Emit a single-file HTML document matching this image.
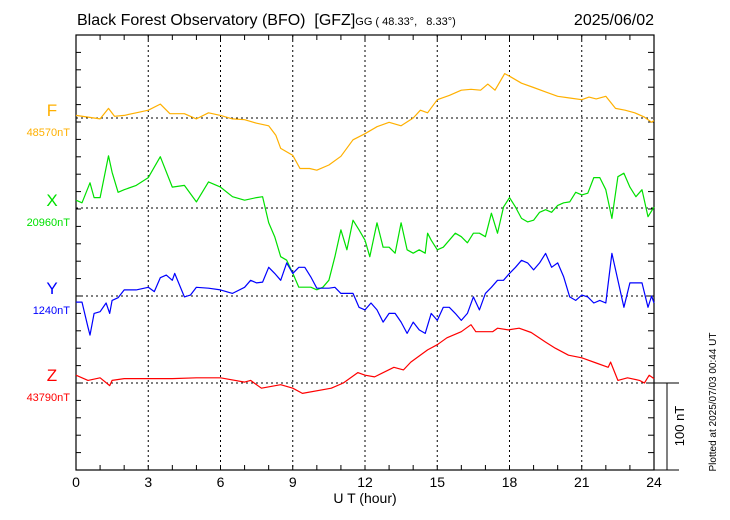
<!DOCTYPE html>
<html><head><meta charset="utf-8"><style>
body{margin:0;background:#fff;}
svg{display:block;font-family:"Liberation Sans",sans-serif;}
</style></head><body>
<svg id="chart" width="730" height="520" viewBox="0 0 730 520" xmlns="http://www.w3.org/2000/svg">
<text x="77" y="25" font-size="16" xml:space="preserve" style="white-space:pre">Black Forest Observatory (BFO)  [GFZ]<tspan font-size="11">GG ( 48.33°,   8.33°)</tspan></text>
<text x="654" y="25" font-size="16" text-anchor="end">2025/06/02</text>
<g id="grid"></g>
<g id="series"></g>
<g id="labels"></g>
<text x="365" y="503" font-size="14" text-anchor="middle">U T (hour)</text>
<text transform="translate(716,402) rotate(-90)" font-size="10" text-anchor="middle">Plotted at 2025/07/03 00:44 UT</text>
<text transform="translate(684,426) rotate(-90)" font-size="13" text-anchor="middle">100 nT</text>
</svg>
<script>
const xTicks=[0,3,6,9,12,15,18,21,24];
const fT=[0,0.5,1,1.35,1.6,2,2.5,3,3.5,3.9,4.5,5,5.5,6,6.5,7,7.5,8,8.3,8.5,9,9.3,9.7,10,10.5,11,11.5,12,12.5,13,13.5,14,14.3,14.6,15,15.5,16,16.4,16.8,17.1,17.4,17.8,18,18.5,19,19.5,20,20.5,21,21.3,21.6,22,22.4,22.8,23.2,23.6,23.9,24];
const fV=[3,1,-1,11,2,3,6,9,16,5,5,-1,6,3,-1,-2,-6,-9,-20,-35,-43,-58,-58,-60,-54,-44,-25,-18,-10,-5,-9,0,9,6,21,26,32,33,32,39,32,51,48,40,35,30,25,23,21,24,22,25,11,9,6,1,-5,-3];
const xT=[0,0.25,0.58,0.75,1,1.35,1.5,1.75,2,2.5,3,3.5,4,4.5,5,5.5,6,6.5,7,7.5,7.75,8,8.25,8.5,8.75,9,9.25,9.5,9.75,10,10.25,10.5,10.75,11,11.25,11.5,11.75,12,12.2,12.5,12.75,13,13.25,13.5,13.75,14,14.25,14.5,14.6,14.75,15,15.25,15.5,15.75,16,16.25,16.5,16.75,17,17.25,17.5,17.75,18,18.25,18.5,18.75,19,19.25,19.5,19.75,20,20.25,20.5,20.75,21,21.25,21.5,21.75,22,22.25,22.5,22.75,23,23.25,23.5,23.75,24];
const xV=[9,6,29,12,12,60,41,18,21,26,35,59,24,26,7,30,24,13,9,12,13,-17,-33,-56,-60,-75,-91,-91,-91,-94,-91,-83,-56,-25,-48,-14,-25,-37,-56,-17,-45,-45,-52,-17,-48,-52,-48,-52,-29,-37,-48,-45,-37,-29,-33,-40,-29,-29,-33,-6,-29,1,12,1,-12,-16,-14,-5,-2,-5,3,6,7,18,15,17,35,35,21,-12,36,40,24,13,21,-10,1];
const yT=[0,0.25,0.5,0.58,0.75,1,1.25,1.4,1.5,1.75,2,2.5,3,3.25,3.5,3.75,4,4.1,4.5,4.75,5,5.5,6,6.5,7,7.25,7.5,7.75,8,8.25,8.5,8.75,9,9.25,9.5,9.75,10,10.5,10.75,11,11.5,11.75,12,12.25,12.5,12.75,13,13.25,13.5,13.75,14,14.25,14.5,14.75,15,15.25,15.5,15.75,16,16.25,16.5,16.75,17,17.25,17.5,17.75,18,18.25,18.5,18.75,19,19.25,19.5,19.75,20,20.25,20.5,20.75,21,21.25,21.5,21.75,22,22.25,22.5,22.75,23,23.25,23.5,23.75,23.9,24];
const yV=[-7,-7,-36,-45,-20,-18,-8,-20,-5,-2,7,7,10,5,21,24,18,26,-1,1,10,9,7,3,10,18,15,16,33,26,18,38,26,33,33,22,9,9,10,3,3,-13,-16,-8,-16,-30,-20,-20,-30,-43,-30,-39,-43,-20,-28,-13,-13,-20,-28,-20,-1,-16,3,10,18,18,26,33,41,38,30,38,49,33,38,22,-1,-5,1,-1,-8,-5,-8,49,18,-13,15,15,15,-13,0,-8];
const zT=[0,0.5,1,1.4,1.5,2,3,4,5,6,7,7.25,7.7,8.5,9,9.4,10.6,11.1,11.7,12,12.4,13.2,13.6,13.9,14.6,15,15.4,16,16.4,16.6,17.3,17.5,17.95,18.4,18.9,19.5,19.9,20.45,21,21.6,22.1,22.2,22.5,22.9,23.4,23.6,23.8,24];
const zV=[9,3,6,-3,3,5,5,5,6,6,1,3,-6,-2,-6,-12,-6,0,12,9,7,18,15,24,38,44,52,59,67,59,59,63,61,63,58,47,40,32,29,23,18,24,3,6,3,0,9,5];

const X0=76,X1=654,TOP=35,BOT=470,PXN=0.87;
const sx=h=>X0+(X1-X0)*h/24;
const sy=(base,v)=>base-v*PXN;
const NS="http://www.w3.org/2000/svg";
function mk(tag,attrs,parent){const e=document.createElementNS(NS,tag);for(const k in attrs)e.setAttribute(k,attrs[k]);parent.appendChild(e);return e;}
const grid=document.getElementById('grid'),ser=document.getElementById('series'),lab=document.getElementById('labels');

const frame=mk('rect',{x:X0,y:TOP,width:X1-X0,height:BOT-TOP,fill:'none',stroke:'#000','stroke-width':1.2},grid);


for(let h=1;h<24;h++){
  const t1=mk('line',{x1:sx(h),x2:sx(h),y1:TOP,y2:TOP+5,stroke:'#000'},grid);
  
  
  const t2=mk('line',{x1:sx(h),x2:sx(h),y1:BOT,y2:BOT-5,stroke:'#000'},grid);
  
  
}
for(let i=1;i<25;i++){
  const y=TOP+i*17.4; if(y>=BOT)break;
  const a=mk('line',{x1:X0,x2:X0+5,y1:y,y2:y,stroke:'#000'},grid);
  
  
  const b=mk('line',{x1:X1,x2:X1-6,y1:y,y2:y,stroke:'#000'},grid);
  
  
}
xTicks.forEach(h=>{
  if(h>0&&h<24){
    const g=mk('line',{x1:sx(h),x2:sx(h),y1:TOP,y2:BOT,stroke:'#000','stroke-dasharray':'2,3','stroke-width':1},grid);
    
    
  }
  const t=mk('text',{x:sx(h),y:487,'font-size':14,'text-anchor':'middle'},lab);
  t.textContent=h;
  
  
});
const comps=[
 {n:'f',base:118,c:'#ffb000',T:fT,V:fV,L:'F',val:'48570nT'},
 {n:'x',base:208,c:'#00e000',T:xT,V:xV,L:'X',val:'20960nT'},
 {n:'y',base:296,c:'#0000ff',T:yT,V:yV,L:'Y',val:'1240nT'},
 {n:'z',base:383,c:'#ff0000',T:zT,V:zV,L:'Z',val:'43790nT'}];
comps.forEach(c=>{
  const bl=mk('line',{x1:X0,x2:X1,y1:c.base,y2:c.base,stroke:'#000','stroke-dasharray':'2,3'},grid);
  
  
  const pts=c.T.map((t,i)=>sx(t).toFixed(1)+','+sy(c.base,c.V[i]).toFixed(1)).join(' ');
  const p=mk('polyline',{points:pts,fill:'none',stroke:c.c,'stroke-width':1.2,'stroke-linejoin':'round'},ser);
  
  
  const l=mk('text',{x:52,y:c.base-2,'font-size':17,fill:c.c,'text-anchor':'middle'},lab);
  l.textContent=c.L;
  
  
  const v=mk('text',{x:70,y:c.base+18,'font-size':11,fill:c.c,'text-anchor':'end'},lab);
  v.textContent=c.val;
  
  
});
const s1=mk('line',{x1:X1,x2:679,y1:383,y2:383,stroke:'#000'},grid);


const s2=mk('line',{x1:X1,x2:679,y1:BOT,y2:BOT,stroke:'#000'},grid);


const s3=mk('line',{x1:667,x2:667,y1:383,y2:BOT,stroke:'#000'},grid);


</script>
</body></html>
